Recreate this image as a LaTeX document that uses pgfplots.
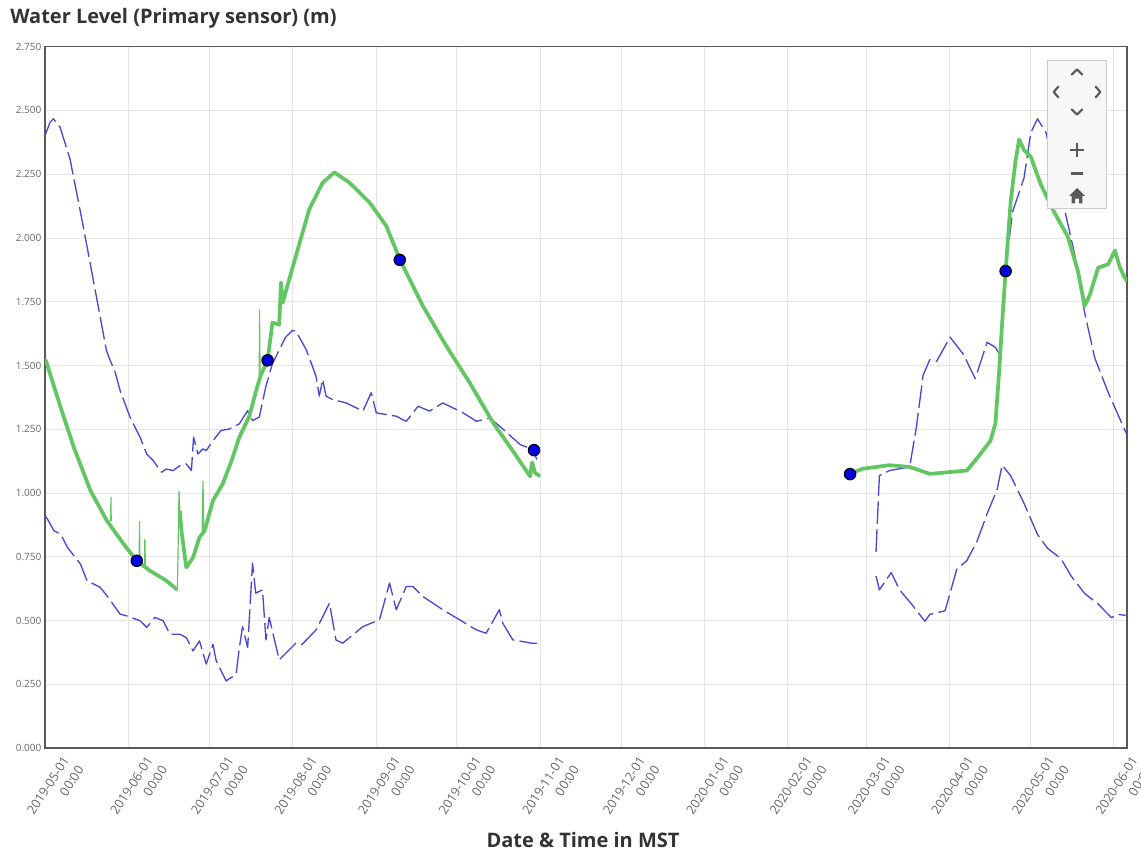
\documentclass[border=0pt]{standalone}
\usepackage{fontspec}
\setmainfont{Open Sans}
\usepackage{pgfplots}
\pgfplotsset{compat=1.18}

\definecolor{lvlgreen}{RGB}{98,198,98}
\definecolor{lvlblue}{RGB}{72,72,212}
\definecolor{mkblue}{RGB}{0,0,225}
\definecolor{txtgray}{RGB}{102,102,102}
\definecolor{titlegray}{RGB}{51,51,51}

\begin{document}
\begin{tikzpicture}
\begin{axis}[
    at={(0,0)}, anchor=south west,
    scale only axis,
    width=811.5pt, height=526pt,
    xmin=0, xmax=402, ymin=0, ymax=2.75,
    xtick={0,31,61,92,123,153,184,214,245,276,305,336,366,397},
    xticklabels={{2019-05-01\\00:00},{2019-06-01\\00:00},{2019-07-01\\00:00},{2019-08-01\\00:00},
        {2019-09-01\\00:00},{2019-10-01\\00:00},{2019-11-01\\00:00},{2019-12-01\\00:00},
        {2020-01-01\\00:00},{2020-02-01\\00:00},{2020-03-01\\00:00},{2020-04-01\\00:00},
        {2020-05-01\\00:00},{2020-06-01\\00:00}},
    ytick={0,0.25,0.5,0.75,1,1.25,1.5,1.75,2,2.25,2.5,2.75},
    /pgf/number format/.cd, fixed, fixed zerofill, precision=3, assume math mode=true, /pgfplots/.cd,
    grid=major,
    major grid style={draw=black!10, line width=0.6pt},
    axis line style={draw=black!65, line width=1pt},
    major tick length=0pt,
    yticklabel style={font=\fontsize{7.5}{9}\selectfont, text=txtgray, anchor=east, inner sep=0pt, xshift=-2.5pt},
    xticklabel style={font=\fontsize{9.5}{13}\selectfont, text=txtgray, rotate=57, anchor=north east,
        align=right, inner sep=0pt, xshift=2.5pt, yshift=-13.6pt},
]
% lower secondary trace, 2019
\addplot[lvlblue, line width=1pt, dash pattern=on 17pt off 4pt, line join=round] coordinates {
(0,0.91) (0.9,0.898) (3.3,0.852) (5.8,0.839) (8.3,0.787) (13.2,0.721) (15.6,0.656) (20.5,0.630)
(23,0.597) (27.9,0.525) (30.4,0.518) (35.3,0.499) (37.8,0.473) (40.8,0.512) (43.9,0.499) (46.4,0.446)
(50.1,0.446) (52.5,0.433) (55,0.381) (57.4,0.420) (59.9,0.329) (62.4,0.407) (63.6,0.342) (67.3,0.263)
(71,0.289) (72.1,0.385) (73.4,0.476) (75.3,0.394) (77.1,0.725) (78.3,0.607) (80.8,0.62) (82.1,0.424)
(83.3,0.512) (87,0.346) (93.2,0.411) (95.6,0.407) (100.7,0.463) (105.7,0.568) (108.1,0.424) (110.6,0.411)
(118.1,0.476) (124.3,0.503) (128,0.647) (130.5,0.542) (134.2,0.633) (136.7,0.633) (140.4,0.594)
(147.8,0.542) (154,0.503) (160.3,0.463) (163.9,0.450) (168.8,0.542) (170.1,0.489) (173.8,0.424)
(180.8,0.411) (182.7,0.411)};
% upper secondary trace, 2019
\addplot[lvlblue, line width=1pt, dash pattern=on 17pt off 4pt, line join=round] coordinates {
(0,2.401) (1.9,2.454) (3.1,2.467) (5.6,2.434) (9.3,2.309) (14.2,2.046) (19.1,1.770) (22.8,1.56)
(24.2,1.52) (25.9,1.48) (27.9,1.402) (31.6,1.297) (35.3,1.219) (37.8,1.153) (40.2,1.127) (43.3,1.081)
(45.1,1.094) (47.6,1.088) (50.1,1.107) (52.5,1.114) (54.4,1.088) (55.2,1.219) (56.8,1.153) (58.7,1.173)
(59.9,1.166) (62.4,1.205) (65.4,1.245) (68.5,1.251) (72.2,1.271) (75.3,1.323) (77.1,1.284) (79.6,1.297)
(82.0,1.415) (84.5,1.507) (89.4,1.611) (91.9,1.637) (93.2,1.635) (97,1.563) (100.7,1.458) (101.9,1.38)
(103.2,1.445) (104.4,1.38) (106.9,1.366) (111.9,1.353) (118.1,1.321) (121.2,1.393) (123.1,1.314)
(130.5,1.301) (134.2,1.281) (136.7,1.314) (138.6,1.34) (142.9,1.321) (147.8,1.353) (155.4,1.314)
(160.3,1.281) (165.3,1.294) (170.3,1.249) (176.5,1.19) (181.4,1.17) (182.7,1.131)};
% secondary traces, 2020
\addplot[lvlblue, line width=1pt, dash pattern=on 17pt off 4pt, line join=round] coordinates {
(308.75,0.674) (310,0.620) (314.4,0.688) (317.5,0.620) (321.9,0.565) (326.9,0.497) (328.75,0.524)
(334.4,0.538) (338.75,0.701) (342.5,0.735) (346.25,0.810) (350,0.918) (353.75,1.014) (355.6,1.109)
(358.75,1.068) (363.75,0.959) (368.75,0.837) (372.5,0.783) (377.5,0.742) (381.25,0.674) (386.25,0.606)
(391.25,0.565) (396.25,0.511) (398.75,0.524) (401.5,0.52)};
\addplot[lvlblue, line width=1pt, dash pattern=on 17pt off 4pt, line join=round] coordinates {
(308.75,0.769) (310,1.068) (313.75,1.088) (321.25,1.102) (323.75,1.258) (326.25,1.462) (328.75,1.523)
(331.25,1.516) (336.25,1.611) (341.25,1.543) (345.6,1.448) (350,1.591) (353.1,1.571) (355,1.537)
(356.9,1.870) (359.4,2.10) (363.75,2.236) (366.25,2.413) (368.75,2.467) (371.9,2.413) (375,2.277)
(378.75,2.114) (382.5,1.938) (386.25,1.707) (390,1.530) (395,1.394) (401.25,1.245) (402,1.23)};
% primary sensor, 2019: thin spikes
\addplot[lvlgreen, line width=0.9pt] coordinates {(24.4,0.89) (24.5,0.985) (24.6,0.89)};
\addplot[lvlgreen, line width=0.9pt] coordinates {(35,0.735) (35.1,0.89) (35.3,0.73)};
\addplot[lvlgreen, line width=0.9pt] coordinates {(37,0.72) (37.1,0.82) (37.3,0.71)};
\addplot[lvlgreen, line width=0.9pt] coordinates {(49.2,0.625) (49.8,1.009) (50.1,0.93)};
\addplot[lvlgreen, line width=0.9pt] coordinates {(58.4,0.85) (58.7,1.048) (59,0.86)};
\addplot[lvlgreen, line width=0.9pt] coordinates {(79.6,1.46) (79.7,1.72) (79.9,1.47)};
% primary sensor, 2019
\addplot[lvlgreen, line width=2.8pt, line join=round] coordinates {
(0,1.52) (0.3,1.52) (5.8,1.336) (10.7,1.179) (16.9,1.009) (23,0.891) (29.2,0.80) (34.1,0.734)
(39,0.695) (45.1,0.656) (48.8,0.623) (49.2,0.625)};
\addplot[lvlgreen, line width=2.8pt, line join=round] coordinates {
(50.1,0.93) (50.7,0.852) (52.5,0.708) (55,0.747) (57.4,0.826) (59.3,0.852) (62.4,0.97) (66,1.035)
(69.1,1.12) (72.2,1.219) (75.9,1.30) (78.4,1.40) (80.1,1.46) (82.7,1.52) (84.5,1.668) (87,1.66)
(87.7,1.825) (88.3,1.746) (93.2,1.929) (98.2,2.113) (103.2,2.217) (107.5,2.257) (113.1,2.217)
(120.6,2.139) (126.8,2.047) (131.8,1.916) (140.4,1.733) (149.1,1.576) (157.8,1.432) (166.5,1.275)
(175.2,1.144) (180.2,1.065) (181,1.12) (182,1.08) (183.9,1.065)};
% primary sensor, 2020
\addplot[lvlgreen, line width=2.8pt, line join=round] coordinates {
(299.1,1.075) (303.75,1.095) (313.75,1.109) (321.25,1.102) (328.75,1.075) (336.25,1.082) (342.5,1.088)
(346.25,1.136) (351.25,1.204) (353.1,1.272) (354.4,1.462) (355.6,1.666) (356.9,1.870) (358.75,2.141)
(360.6,2.304) (361.9,2.386) (363.75,2.345) (366.25,2.318) (370,2.209) (375,2.10) (380,2.005)
(383.75,1.870) (386.25,1.734) (388.1,1.774) (391.25,1.883) (395,1.897) (397.5,1.951) (399.4,1.883)
(401.25,1.842) (402,1.83)};
% field visit readings
\addplot[only marks, mark=*, mark size=4.3pt, mark options={fill=mkblue, draw=black, line width=0.8pt}] coordinates {
(34.1,0.734) (82.7,1.52) (131.8,1.914) (181.7,1.168) (299.1,1.074) (356.9,1.87)};
\end{axis}

% navigation widget
\draw[draw=black!20, fill=black!3] (751.5pt,405pt) rectangle (795.75pt,516pt);
\begin{scope}[draw=black!65, line width=1.6pt, line cap=round, line join=round]
\draw (770pt,505pt) -- (774pt,509pt) -- (778pt,505pt);
\draw (760pt,496pt) -- (756.5pt,492pt) -- (760pt,488pt);
\draw (788pt,496pt) -- (791.5pt,492pt) -- (788pt,488pt);
\draw (770pt,479pt) -- (774pt,475pt) -- (778pt,479pt);
\draw[line width=2pt, line cap=butt] (769pt,448.5pt) -- (779pt,448.5pt) (774pt,443.5pt) -- (774pt,453.5pt);
\draw[line width=2pt, line cap=butt] (769.5pt,431pt) -- (778.5pt,431pt);
\fill[black!65, draw=none] (768pt,414pt) -- (774pt,420pt) -- (780pt,414pt) -- (778pt,414pt) -- (778pt,408.5pt)
    -- (775.5pt,408.5pt) -- (775.5pt,412pt) -- (772.5pt,412pt) -- (772.5pt,408.5pt) -- (770pt,408.5pt)
    -- (770pt,414pt) -- cycle;
\end{scope}

\node[anchor=west, inner sep=0pt, text=titlegray, font=\bfseries\fontsize{15}{18}\selectfont] at (-26.25pt,547.5pt) {Water Level (Primary sensor) (m)};
\node[inner sep=0pt, text=titlegray, font=\bfseries\fontsize{15}{18}\selectfont] at (403.5pt,-69pt) {Date \& Time in MST};

\pgfresetboundingbox
\useasboundingbox (-33.75pt,-79.5pt) rectangle (822pt,561pt);
\end{tikzpicture}
\end{document}
